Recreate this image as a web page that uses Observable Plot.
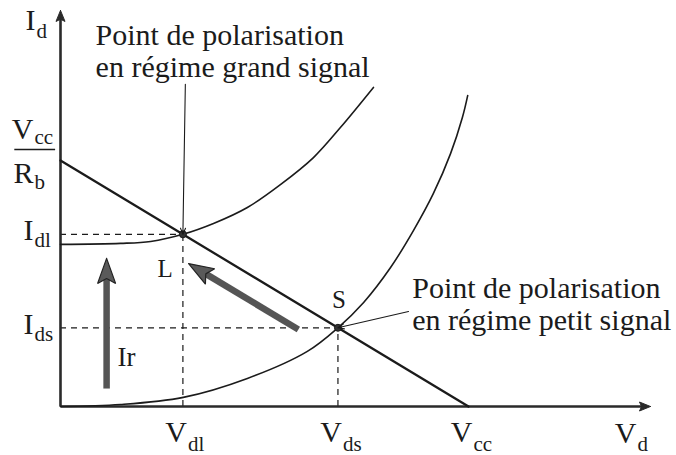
<!DOCTYPE html>
<html>
<head>
<meta charset="utf-8">
<script src="https://cdn.jsdelivr.net/npm/d3@7"></script>
<script src="https://cdn.jsdelivr.net/npm/@observablehq/plot@0.6"></script>
<style>
  html, body { margin: 0; padding: 0; background: #fff; }
  #chart svg { display: block; }
</style>
</head>
<body>
<div id="chart"></div>
<script>
// Operating quantities (normalised units: Vcc = 10, Vcc/Rb = 10)
const Vcc = 10;
const VccRb = 10;
const Vdl = 3.0, Idl = 7.0;   // large-signal bias point L
const Vds = 6.8, Ids = 3.2;   // small-signal bias point S
const xEnd = 14.46, yEnd = 16.1; // axis arrow tips

// Diode characteristic, large-signal regime (passes through L)
const curveGrand = [
  [0, 6.59], [1.47, 6.63], [2.21, 6.71], [3.0, 7.0], [3.75, 7.44], [4.58, 8.09],
  [5.39, 9.02], [6.2, 10.12], [6.86, 11.34], [7.67, 12.97]
];
// Diode characteristic, small-signal regime (passes through S)
const curvePetit = [
  [0, 0], [1.47, 0.08], [3.01, 0.37], [4.58, 1.14], [6.05, 2.24], [6.8, 3.2],
  [7.43, 4.23], [8.09, 5.65], [8.65, 7.15], [9.14, 8.66], [9.56, 10.28],
  [9.85, 11.75], [9.98, 12.64]
];

// Tick labels
const xTickLabels = [
  {x: Vdl, main: "V", sub: "dl"},
  {x: Vds, main: "V", sub: "ds"},
  {x: Vcc, main: "V", sub: "cc"}
];
const yTickLabels = [
  {y: Idl, main: "I", sub: "dl"},
  {y: Ids, main: "I", sub: "ds"}
];
const axisTitles = {x: {main: "V", sub: "d"}, y: {main: "I", sub: "d"}};
const fractionTop = {main: "V", sub: "cc"};
const fractionBottom = {main: "R", sub: "b"};

// Bias points
const points = [
  {x: Vdl, y: Idl, name: "L"},
  {x: Vds, y: Ids, name: "S"}
];

// Annotations: text block and the tail of its pointer
const notes = [
  {text: "Point de polarisation\nen régime grand signal", tx: 0.86, ty: 13.41, ax: 3.06, ay: 13.1, px: Vdl, py: Idl, inset: 6},
  {text: "Point de polarisation\nen régime petit signal", tx: 8.62, ty: 3.09, ax: 8.53, ay: 3.86, px: Vds, py: Ids, inset: 10}
];

// Heavy arrows: rising reverse current Ir, and drift of the bias point from S to L
const heavyArrows = [
  {id: "ir", x1: 1.13, y1: 0.73, x2: 1.13, y2: 6.02},
  {id: "drift", x1: 5.83, y1: 3.13, x2: 3.14, y2: 5.81}
];
const irLabel = "Ir";

// ---- scale geometry ----
const X_RANGE = [60, 468], Y_RANGE = [406, 160];
const kx = (X_RANGE[1] - X_RANGE[0]) / 10;
const ky = (Y_RANGE[0] - Y_RANGE[1]) / 10;

// Filled arrowhead (in data space) of given pixel length and half-width
function headOf(a, len, half) {
  const dxp = (a.x2 - a.x1) * kx, dyp = (a.y2 - a.y1) * ky;
  const L = Math.hypot(dxp, dyp), ux = dxp / L, uy = dyp / L;
  const bx = -ux * len, by = -uy * len;
  const pts = [[0, 0], [bx - uy * half, by + ux * half], [bx * 0.8, by * 0.8], [bx + uy * half, by - ux * half], [0, 0]];
  return pts.map(([px, py]) => ({x: a.x2 + px / kx, y: a.y2 + py / ky, id: a.id}));
}
function shaftOf(a, len) {
  const dxp = (a.x2 - a.x1) * kx, dyp = (a.y2 - a.y1) * ky;
  const L = Math.hypot(dxp, dyp);
  const f = (L - len) / L;
  return {id: a.id, x1: a.x1, y1: a.y1, x2: a.x1 + (a.x2 - a.x1) * f, y2: a.y1 + (a.y2 - a.y1) * f};
}

const axes = [
  {id: "xaxis", x1: 0, y1: 0, x2: xEnd, y2: 0},
  {id: "yaxis", x1: 0, y1: 0, x2: 0, y2: yEnd}
];

const ink = "#1b1b1b";
const serif = "'Liberation Serif', 'Times New Roman', serif";

function subscripted(data, {x = "x", y = "y", size = 30, subSize = 21, dx = 0, dy = 0, subDy = 7} = {}) {
  return [
    Plot.text(data, {x, y, text: "main", fontSize: size, textAnchor: "end", lineAnchor: "bottom", dx, dy, fill: ink, fontFamily: serif}),
    Plot.text(data, {x, y, text: "sub", fontSize: subSize, textAnchor: "start", lineAnchor: "bottom", dx: dx + 1, dy: dy + subDy, fill: ink, fontFamily: serif})
  ];
}

const chart = Plot.plot({
  width: 676,
  height: 455,
  x: {domain: [0, 10], range: X_RANGE, axis: null},
  y: {domain: [0, 10], range: Y_RANGE, axis: null},
  style: {fontFamily: serif, background: "#fff"},
  marks: [
    // dashed projections of the bias points
    Plot.ruleY(points, {y: "y", x1: 0, x2: "x", stroke: ink, strokeWidth: 1.2, strokeDasharray: "6,5"}),
    Plot.ruleX(points, {x: "x", y1: 0, y2: "y", stroke: ink, strokeWidth: 1.2, strokeDasharray: "6,5"}),

    // axes with arrowheads
    Plot.link(axes.map(a => shaftOf(a, 6)), {x1: "x1", y1: "y1", x2: "x2", y2: "y2", stroke: "#2a2a2a", strokeWidth: 2.6}),
    Plot.line(axes.flatMap(a => headOf(a, 11, 4.5)), {x: "x", y: "y", z: "id", fill: "#2a2a2a", stroke: "#2a2a2a", strokeWidth: 1}),

    // load line
    Plot.line([{x: 0, y: VccRb}, {x: Vcc, y: 0}], {x: "x", y: "y", stroke: ink, strokeWidth: 2.3}),

    // diode characteristics
    Plot.line(curveGrand, {x: d => d[0], y: d => d[1], curve: "catmull-rom", stroke: ink, strokeWidth: 1.6}),
    Plot.line(curvePetit, {x: d => d[0], y: d => d[1], curve: "catmull-rom", stroke: ink, strokeWidth: 1.6}),

    // heavy grey arrows
    Plot.link(heavyArrows.map(a => shaftOf(a, 20)), {x1: "x1", y1: "y1", x2: "x2", y2: "y2", stroke: "#555", strokeWidth: 6.5}),
    Plot.line(heavyArrows.flatMap(a => headOf(a, 25, 9)), {x: "x", y: "y", z: "id", fill: "#5a5a5a", stroke: "#222", strokeWidth: 1.2, strokeLinejoin: "miter"}),
    Plot.text(heavyArrows.slice(0, 1), {x: "x1", y: "y1", text: () => irLabel, fontSize: 27, textAnchor: "start", lineAnchor: "bottom", dx: 11, dy: -23, fill: ink}),

    // bias points
    Plot.dot(points, {x: "x", y: "y", r: 3.5, fill: "#333", stroke: ink, strokeWidth: 1}),
    Plot.text(points.slice(0, 1), {x: "x", y: "y", text: "name", fontSize: 25, textAnchor: "end", lineAnchor: "bottom", dx: -10, dy: 43, fill: ink}),
    Plot.text(points.slice(1), {x: "x", y: "y", text: "name", fontSize: 25, textAnchor: "middle", lineAnchor: "bottom", dx: 1, dy: -20, fill: ink}),

    // annotations
    Plot.arrow(notes, {x1: "ax", y1: "ay", x2: "px", y2: "py", insetEnd: d => d.inset, stroke: ink, strokeWidth: 1.1, headLength: 9, headAngle: 45}),
    Plot.text(notes, {x: "tx", y: "ty", text: "text", fontSize: 30, lineHeight: 1.07, textAnchor: "start", lineAnchor: "bottom", fill: ink}),

    // tick labels
    ...subscripted(xTickLabels, {x: "x", y: () => 0, dx: 4, dy: 35, subDy: 9}),
    ...subscripted(yTickLabels, {x: () => 0, y: "y", dx: -27, dy: 6, subDy: 7}),
    ...subscripted([axisTitles.x], {x: () => xEnd, y: () => 0, dx: -14, dy: 36, subDy: 8}),
    ...subscripted([axisTitles.y], {x: () => 0, y: () => yEnd, dx: -25, dy: 20, subDy: 8}),

    // Vcc / Rb fraction at the load-line intercept
    ...subscripted([fractionTop], {x: () => 0, y: () => VccRb, dx: -27, dy: -22, subDy: 5}),
    Plot.ruleY([VccRb], {x1: -1.12, x2: -0.12, dy: -11, stroke: ink, strokeWidth: 1.6}),
    ...subscripted([fractionBottom], {x: () => 0, y: () => VccRb, dx: -27, dy: 22, subDy: 6})
  ]
});

document.getElementById("chart").appendChild(chart);
</script>
</body>
</html>
